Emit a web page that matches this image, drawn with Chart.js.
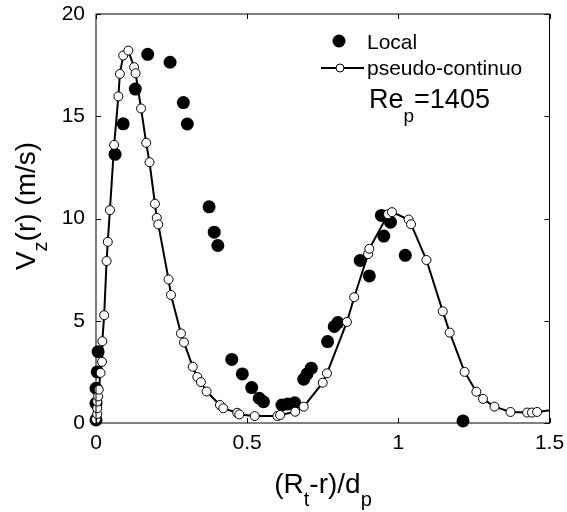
<!DOCTYPE html>
<html>
<head>
<meta charset="utf-8">
<script src="https://cdn.jsdelivr.net/npm/chart.js@4.4.1/dist/chart.umd.min.js"></script>
<style>
  body { margin: 0; background: #fff; }
</style>
</head>
<body>
<canvas id="vz-chart" width="567" height="512"></canvas>
<script>
// measured profile (filled dots)
var localX = [0.000, 0.000, 0.000, 0.004, 0.007, 0.063, 0.090, 0.130, 0.171, 0.245,
              0.289, 0.302, 0.374, 0.391, 0.403, 0.449, 0.484, 0.515, 0.540, 0.554,
              0.615, 0.634, 0.657, 0.687, 0.698, 0.712, 0.766, 0.788, 0.800, 0.874,
              0.904, 0.944, 0.952, 0.974, 1.023, 1.214];
var localY = [0.15, 0.96, 1.70, 2.50, 3.49, 13.14, 14.63, 16.33, 18.03, 17.64,
              15.67, 14.62, 10.57, 9.33, 8.68, 3.11, 2.40, 1.73, 1.21, 1.04,
              0.88, 0.93, 0.99, 2.14, 2.40, 2.68, 3.98, 4.72, 4.91, 7.95,
              7.19, 10.15, 9.14, 9.82, 8.20, 0.10];

// pseudo-continuous model (open dots + line)
var pseudoX = [0.000, 0.004, 0.004, 0.004, 0.007, 0.009, 0.015, 0.020, 0.021, 0.027,
               0.035, 0.039, 0.046, 0.060, 0.074, 0.079, 0.090, 0.107, 0.126, 0.131,
               0.149, 0.166, 0.177, 0.195, 0.201, 0.206, 0.240, 0.248, 0.281, 0.291,
               0.320, 0.335, 0.347, 0.366, 0.410, 0.421, 0.467, 0.474, 0.525, 0.600,
               0.609, 0.659, 0.687, 0.750, 0.764, 0.830, 0.854, 0.900, 0.904, 0.966,
               0.979, 1.034, 1.042, 1.093, 1.147, 1.170, 1.219, 1.258, 1.280, 1.318,
               1.371, 1.426, 1.442, 1.459, 1.560];
var pseudoY = [0.18, 0.44, 0.72, 1.05, 1.30, 1.63, 2.45, 2.99, 4.00, 5.27,
               7.92, 8.86, 10.41, 13.60, 15.97, 17.07, 17.97, 18.21, 17.40, 17.10,
               15.38, 13.70, 12.75, 10.72, 10.03, 9.71, 7.02, 6.26, 4.38, 3.94,
               2.75, 2.25, 2.00, 1.54, 0.88, 0.72, 0.50, 0.42, 0.34, 0.34,
               0.39, 0.55, 0.80, 1.97, 2.43, 4.94, 6.15, 8.26, 8.52, 10.21,
               10.31, 9.95, 9.72, 7.97, 5.46, 4.42, 2.50, 1.53, 1.18, 0.80,
               0.54, 0.51, 0.51, 0.54, 0.75];

var xTicks = [0, 0.5, 1, 1.5];
var yTicks = [0, 5, 10, 15, 20];

var FONT = "'Liberation Sans', Arial, sans-serif";
Chart.defaults.font.family = FONT;
Chart.defaults.color = '#000';

function toPoints(xs, ys) {
  return xs.map(function (x, i) { return { x: x, y: ys[i] }; });
}

// text with subscripts; parts = [[text, isSub], ...]
function drawSubText(ctx, parts, x, y, size, align, drop) {
  var subSize = Math.round(size * 0.72);
  var widths = parts.map(function (p) {
    ctx.font = (p[1] ? subSize : size) + 'px ' + FONT;
    return ctx.measureText(p[0]).width;
  });
  var total = widths.reduce(function (a, b) { return a + b; }, 0);
  var cx = align === 'center' ? x - total / 2 : x;
  ctx.textAlign = 'left';
  ctx.textBaseline = 'alphabetic';
  parts.forEach(function (p, i) {
    ctx.font = (p[1] ? subSize : size) + 'px ' + FONT;
    ctx.fillText(p[0], cx, p[1] ? y + size * drop : y);
    cx += widths[i];
  });
}

var frame = {
  id: 'frame',
  afterDraw: function (chart) {
    var ctx = chart.ctx, a = chart.chartArea;
    var xs = chart.scales.x, ys = chart.scales.y;
    ctx.save();
    ctx.strokeStyle = '#000';
    ctx.fillStyle = '#000';
    ctx.lineWidth = 1;
    // box
    ctx.strokeRect(a.left, a.top, a.right - a.left, a.bottom - a.top);
    // inward ticks on all sides
    ctx.beginPath();
    xTicks.forEach(function (v) {
      var px = Math.round(xs.getPixelForValue(v)) + 0.5;
      ctx.moveTo(px, a.bottom); ctx.lineTo(px, a.bottom - 5);
      ctx.moveTo(px, a.top); ctx.lineTo(px, a.top + 5);
    });
    yTicks.forEach(function (v) {
      var py = Math.round(ys.getPixelForValue(v)) + 0.5;
      ctx.moveTo(a.left, py); ctx.lineTo(a.left + 5, py);
      ctx.moveTo(a.right, py); ctx.lineTo(a.right - 5, py);
    });
    ctx.stroke();

    // axis titles
    drawSubText(ctx, [['(R', 0], ['t', 1], ['-r)/d', 0], ['p', 1]], 323, 493, 28, 'center', 0.45);
    ctx.save();
    ctx.translate(35, 206);
    ctx.rotate(-Math.PI / 2);
    drawSubText(ctx, [['V', 0], ['z', 1], ['(r) (m/s)', 0]], 0, 0, 28, 'center', 0.42);
    ctx.restore();

    // legend
    ctx.beginPath();
    ctx.arc(339, 41, 6.5, 0, Math.PI * 2);
    ctx.fill();
    ctx.lineWidth = 2;
    ctx.beginPath();
    ctx.moveTo(321, 68); ctx.lineTo(364, 68);
    ctx.stroke();
    ctx.lineWidth = 1;
    ctx.fillStyle = '#fff';
    ctx.beginPath();
    ctx.arc(340, 68, 4, 0, Math.PI * 2);
    ctx.fill();
    ctx.stroke();
    ctx.fillStyle = '#000';
    ctx.font = '21px ' + FONT;
    ctx.textAlign = 'left';
    ctx.textBaseline = 'alphabetic';
    ctx.fillText('Local', 367, 48.5);
    ctx.fillText('pseudo-continuo', 367, 75);
    drawSubText(ctx, [['Re', 0], ['p', 1], ['=1405', 0]], 369, 108, 27, 'left', 0.5);
    ctx.restore();
  }
};

var ctx = document.getElementById('vz-chart').getContext('2d');
var vzChart = new Chart(ctx, {
  type: 'scatter',
  data: {
    datasets: [{
      label: 'pseudo-continuo',
      data: toPoints(pseudoX, pseudoY),
      showLine: true,
      borderColor: '#000',
      borderWidth: 2,
      pointRadius: 4.5,
      pointBackgroundColor: '#fff',
      pointBorderColor: '#000',
      pointBorderWidth: 1,
      clip: { left: false, top: false, right: 0, bottom: false }
    }, {
      label: 'Local',
      data: toPoints(localX, localY),
      pointRadius: 6.5,
      pointBackgroundColor: '#000',
      pointBorderColor: '#000',
      pointBorderWidth: 0,
      clip: false
    }]
  },
  plugins: [frame],
  options: {
    responsive: false,
    animation: false,
    layout: { padding: { left: 0, right: 17.5, top: 14, bottom: 0 } },
    plugins: {
      legend: { display: false },
      tooltip: { enabled: false }
    },
    scales: {
      x: {
        type: 'linear',
        min: 0,
        max: 1.5,
        afterBuildTicks: function (s) { s.ticks = xTicks.map(function (v) { return { value: v }; }); },
        afterFit: function (s) { s.height = 89; s.paddingLeft = 0; s.paddingRight = 0; },
        ticks: {
          font: { size: 21 },
          color: '#000',
          padding: 8,
          maxRotation: 0,
          callback: function (v) { return String(v); }
        },
        grid: { display: false, drawTicks: false },
        border: { display: false }
      },
      y: {
        type: 'linear',
        min: 0,
        max: 20,
        afterBuildTicks: function (s) { s.ticks = yTicks.map(function (v) { return { value: v }; }); },
        afterFit: function (s) { s.width = 96; s.paddingTop = 0; s.paddingBottom = 0; },
        ticks: {
          font: { size: 21 },
          color: '#000',
          padding: 11,
          callback: function (v) { return String(v); }
        },
        grid: { display: false, drawTicks: false },
        border: { display: false }
      }
    }
  }
});
</script>
</body>
</html>
